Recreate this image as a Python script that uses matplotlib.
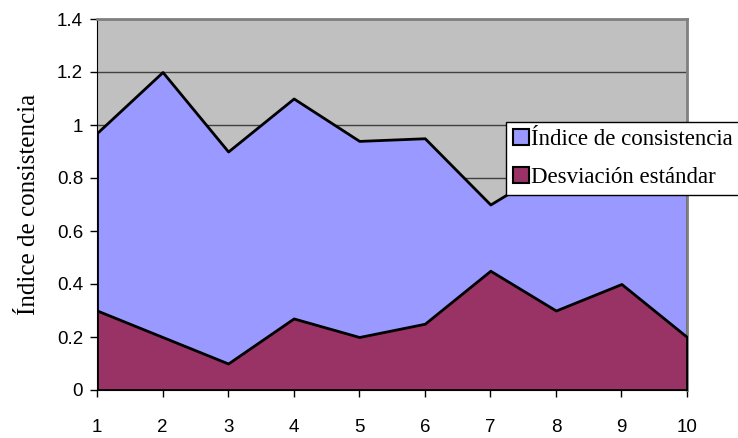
import matplotlib
matplotlib.use("Agg")
import matplotlib.pyplot as plt
from matplotlib.patches import Patch

x = [1, 2, 3, 4, 5, 6, 7, 8, 9, 10]
indice = [0.97, 1.20, 0.90, 1.10, 0.94, 0.95, 0.70, 0.85, 0.90, 0.85]
desviacion = [0.30, 0.20, 0.10, 0.27, 0.20, 0.25, 0.45, 0.30, 0.40, 0.20]
yticks = [0, 0.2, 0.4, 0.6, 0.8, 1, 1.2, 1.4]
ytick_labels = ["0", "0.2", "0.4", "0.6", "0.8", "1", "1.2", "1.4"]
series_names = ["Índice de consistencia", "Desviación estándar"]

c_blue = "#9999FF"
c_maroon = "#993366"
c_bg = "#C0C0C0"

fig = plt.figure(figsize=(7.38, 4.38), dpi=100)
ax = fig.add_axes([97/738, 1-390/438, (687-97)/738, (390-19)/438])
ax.set_facecolor(c_bg)

ax.fill_between(x, 0, indice, facecolor=c_blue, edgecolor="black", linewidth=2, zorder=2)
ax.fill_between(x, 0, desviacion, facecolor=c_maroon, edgecolor="black", linewidth=2, zorder=3)

ax.set_xlim(1, 10)
ax.set_ylim(0, 1.4)
ax.set_xticks(x)
ax.set_xticklabels([str(v) for v in x])
ax.set_yticks(yticks)
ax.set_yticklabels(ytick_labels)
ax.yaxis.grid(True, color="#404040", linewidth=1)
ax.set_axisbelow(True)

for lab in ax.get_xticklabels() + ax.get_yticklabels():
    lab.set_fontfamily("Liberation Sans")
    lab.set_fontsize(13.5)
ax.tick_params(axis="both", direction="out", length=5, width=1, color="black")
ax.tick_params(axis="x", pad=16)
ax.tick_params(axis="y", pad=5)

ax.spines["left"].set_color("black")
ax.spines["bottom"].set_color("black")
ax.spines["top"].set_color("#808080")
ax.spines["right"].set_color("#808080")
ax.spines["top"].set_linewidth(2)
ax.spines["right"].set_linewidth(2)

ax.set_ylabel("Índice de consistencia", fontfamily="Liberation Serif", fontsize=18, labelpad=12)

handles = [Patch(facecolor=c_blue, edgecolor="black", linewidth=1.5),
           Patch(facecolor=c_maroon, edgecolor="black", linewidth=1.5)]
leg = fig.legend(handles, series_names, loc="upper left",
                 bbox_to_anchor=(506/738, 1-122/438),
                 prop={"family": "Liberation Serif", "size": 16.5},
                 frameon=True, fancybox=False, framealpha=1, edgecolor="black",
                 handlelength=0.7, handleheight=0.7, handletextpad=0.1,
                 borderpad=0.3, labelspacing=0.75, borderaxespad=0)
leg.get_frame().set_linewidth(1)

fig.savefig("out.png", dpi=100)
